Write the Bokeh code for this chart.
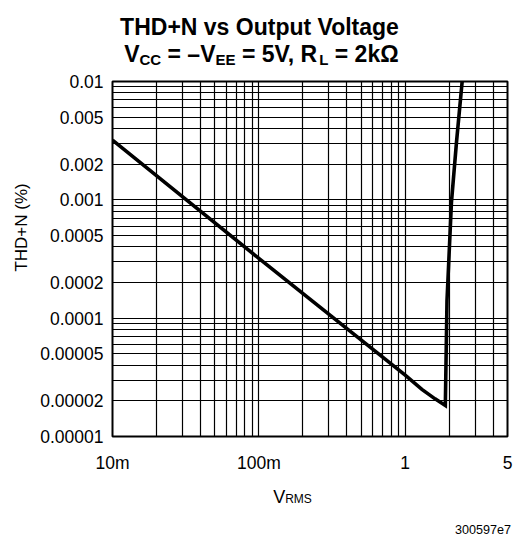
import math
from bokeh.plotting import figure
from bokeh.models import FixedTicker, ColumnDataSource, Range1d
from bokeh.layouts import column, row
from bokeh.core.properties import value, field
from bokeh.embed import file_html
from bokeh.resources import INLINE

# ---------------- data ----------------
vrms = [0.01, 0.1, 1.0, 1.3, 1.6, 1.88, 1.93, 2.07, 2.24, 2.45]
thdn = [0.0032, 0.00032, 3.3e-5, 2.5e-5, 2.08e-5, 1.83e-5, 1.41e-4, 9.5e-4, 0.00305, 0.01]

x_ticks = [0.01, 0.1, 1.0, 5.0]
x_tick_labels = ["10m", "100m", "1", "5"]
y_ticks = [0.00001, 0.00002, 0.00005, 0.0001, 0.0002, 0.0005, 0.001, 0.002, 0.005, 0.01]
y_tick_labels = ["0.00001", "0.00002", "0.00005", "0.0001", "0.0002", "0.0005",
                 "0.001", "0.002", "0.005", "0.01"]

title_line1 = "THD+N vs Output Voltage"
title_line2 = [("V", False), ("CC", True), (" = \u2013V", False), ("EE", True),
               (" = 5V, R", False), ("L", True), (" = 2k\u03a9", False)]
x_label = [("V", False), ("RMS", True)]
y_label = "THD+N (%)"
figure_code = "300597e7"

# ---------------- layout ----------------
FONT = "Liberation Sans"
TOTAL_W = 514
TITLE_H = 70
MAIN_H = 405
BOTTOM_H = 61
LEFT_W = 36
MAIN_W = TOTAL_W - LEFT_W

REG = {'V': 667, 'R': 722, 'M': 833, 'S': 667, ' ': 278}
BOLD = {'V': 667, 'C': 722, 'E': 667, 'R': 722, 'L': 611, ' ': 278, '=': 584,
        '\u2013': 556, '5': 556, ',': 278, '2': 556, 'k': 556, '\u03a9': 768}


def seg_width(text, size, bold):
    table = BOLD if bold else REG
    return sum(table.get(ch, 556) for ch in text) * size / 1000.0


def rich_rows(segments, center_x, base_y, size_main, size_sub, sub_drop, bold):
    total = sum(seg_width(t, size_sub if s else size_main, bold) for t, s in segments)
    x = center_x - total / 2.0
    rows = []
    for text, is_sub in segments:
        size = size_sub if is_sub else size_main
        stripped = text.lstrip(" ")
        x += seg_width(" " * (len(text) - len(stripped)), size, bold)
        rows.append((x, base_y + (sub_drop if is_sub else 0), stripped, f"{size}px"))
        x += seg_width(stripped, size, bold)
    return rows


def canvas(width, height):
    f = figure(width=width, height=height, x_range=Range1d(0, width),
               y_range=Range1d(0, height), output_backend="svg",
               toolbar_location=None, min_border=0, title=None,
               x_axis_location=None, y_axis_location=None,
               background_fill_color="white", border_fill_color="white")
    f.grid.visible = False
    f.outline_line_color = None
    return f


def put_rows(f, rows, top, left, height, style, align="left"):
    src = ColumnDataSource(dict(
        x=[r[0] - left for r in rows],
        y=[height - (r[1] - top) for r in rows],
        text=[r[2] for r in rows],
        size=[r[3] for r in rows]))
    f.text(x="x", y="y", text="text", source=src, text_font=value(FONT),
           text_font_size=field("size"), text_font_style=style,
           text_color="black", text_baseline="alphabetic", text_align=align)


# ---- title panel ----
title_fig = canvas(TOTAL_W, TITLE_H)
put_rows(title_fig, [(259, 26.7, title_line1, "23px")], 0, 0, TITLE_H, "bold", "center")
put_rows(title_fig, rich_rows(title_line2, 260.5, 53.3, 23, 15, 6, True),
         0, 0, TITLE_H, "bold")

# ---- left panel (y axis label) ----
left_fig = canvas(LEFT_W, MAIN_H)
ysrc = ColumnDataSource(dict(x=[21], y=[MAIN_H - (236.5 - TITLE_H)], text=[y_label]))
left_fig.text(x="x", y="y", text="text", source=ysrc, text_font=value(FONT),
              text_font_size="17px", angle=math.pi / 2, text_color="black",
              text_align="center", text_baseline="middle")

# ---- main chart ----
p = figure(width=MAIN_W, height=MAIN_H, x_axis_type="log", y_axis_type="log",
           x_range=Range1d(0.01, 5), y_range=Range1d(1e-5, 1e-2),
           output_backend="svg", toolbar_location=None, title=None,
           min_border_left=112 - LEFT_W, min_border_right=TOTAL_W - 507,
           min_border_top=81 - TITLE_H, min_border_bottom=TITLE_H + MAIN_H - 436,
           background_fill_color="white", border_fill_color="white")

src = ColumnDataSource(dict(x=vrms, y=thdn))
p.line("x", "y", source=src, line_width=3.6, line_color="black", line_join="miter")

x_grid = [m * 10.0 ** e for e in (-2, -1, 0) for m in range(1, 10) if m * 10.0 ** e <= 5.0]
y_grid = [m * 10.0 ** e for e in (-5, -4, -3) for m in range(1, 10)] + [0.01]
p.xgrid.ticker = FixedTicker(ticks=x_grid)
p.ygrid.ticker = FixedTicker(ticks=y_grid)
p.grid.grid_line_color = "black"
p.grid.grid_line_width = 1.2
p.grid.grid_line_alpha = 1.0

p.xaxis.ticker = FixedTicker(ticks=x_ticks)
p.xaxis.major_label_overrides = dict(zip(x_ticks, x_tick_labels))
p.yaxis.ticker = FixedTicker(ticks=y_ticks)
p.yaxis.major_label_overrides = dict(zip(y_ticks, y_tick_labels))

for ax in (p.xaxis, p.yaxis):
    ax.axis_line_color = None
    ax.major_tick_line_color = None
    ax.minor_tick_line_color = None
    ax.major_tick_out = 0
    ax.major_tick_in = 0
    ax.minor_tick_out = 0
    ax.minor_tick_in = 0
    ax.major_label_text_font = FONT
    ax.major_label_text_font_size = "17.5px"
    ax.major_label_text_color = "black"
p.xaxis.major_label_standoff = 16
p.yaxis.major_label_standoff = 9

p.outline_line_color = "black"
p.outline_line_width = 2
p.outline_line_alpha = 1.0

# ---- bottom panel ----
BOTTOM_TOP = TITLE_H + MAIN_H
bottom_fig = canvas(TOTAL_W, BOTTOM_H)
put_rows(bottom_fig, rich_rows(x_label, 292, 496, 18, 12, 2.5, False),
         BOTTOM_TOP, 0, BOTTOM_H, "normal")
csrc = ColumnDataSource(dict(x=[510.5], y=[BOTTOM_H - (529.0 - BOTTOM_TOP)], text=[figure_code]))
bottom_fig.text(x="x", y="y", text="text", source=csrc, text_font=value(FONT),
                text_font_size="12.6px", text_color="black",
                text_align="right", text_baseline="alphabetic")

layout = column(title_fig, row(left_fig, p), bottom_fig)
open("out.html", "w").write(file_html(layout, INLINE))
